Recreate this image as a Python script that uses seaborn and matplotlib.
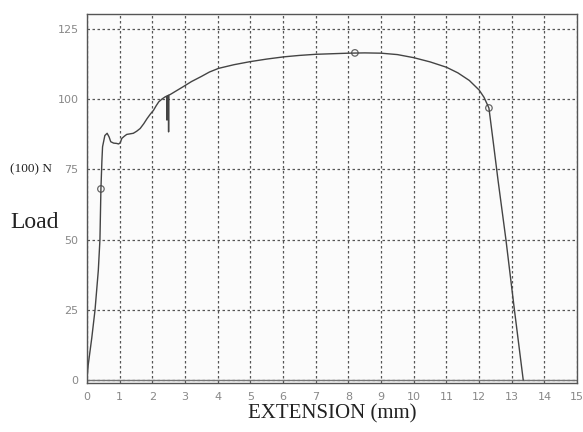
import numpy as np
import pandas as pd
import matplotlib
matplotlib.use("Agg")
import matplotlib.pyplot as plt
import seaborn as sns

sns.set_style("white")

# extension (mm) and load (x100 N)
extension = [0.0, 0.04, 0.15, 0.25, 0.35, 0.40, 0.43, 0.46, 0.48, 0.55, 0.62, 0.68, 0.73,
             0.82, 0.91, 0.97, 1.02, 1.07, 1.15, 1.22, 1.32, 1.42, 1.52, 1.63, 1.74,
             1.84, 1.94, 2.04, 2.12, 2.20, 2.30, 2.40, 2.44, 2.45, 2.46, 2.49, 2.50,
             2.51, 2.55, 2.75, 2.95, 3.2, 3.5, 3.75, 4.03, 4.5, 5.0, 5.5, 6.03, 6.5,
             7.0, 7.5, 8.0, 8.5, 9.0, 9.5, 10.0, 10.5, 11.0, 11.35, 11.7, 12.0, 12.15, 12.3,
             12.44, 12.58, 12.82, 13.08, 13.35]
load = [0.0, 5.3, 15.0, 25.0, 39.0, 50.0, 68.0, 78.0, 83.0, 87.0, 87.8, 86.5, 84.8,
        84.3, 84.2, 84.0, 84.4, 86.0, 86.8, 87.4, 87.6, 87.8, 88.5, 89.5, 91.2,
        93.0, 94.6, 96.0, 97.6, 99.0, 100.0, 100.8, 101.0, 92.5, 101.1, 101.3, 88.3,
        101.4, 101.6, 103.0, 104.4, 106.2, 108.0, 109.6, 110.9, 112.2, 113.3, 114.2, 115.0, 115.5,
        115.9, 116.1, 116.3, 116.4, 116.3, 115.8, 114.7, 113.2, 111.3, 109.3, 106.6, 103.2, 100.6, 96.8,
        84.0, 71.0, 50.0, 25.0, 0.0]

# marked points on the curve
mark_ext = [0.43, 8.2, 12.3]
mark_load = [68.0, 116.4, 96.8]

x_ticks = list(range(0, 16))
y_ticks = [0, 25, 50, 75, 100, 125]

df = pd.DataFrame({'extension': extension, 'load': load})
marks = pd.DataFrame({'extension': mark_ext, 'load': mark_load})

fig = plt.figure(figsize=(5.83, 4.32), dpi=100)
ax = fig.add_axes([0.149, 0.113, 0.841, 0.855])
ax.set_facecolor('#fbfbfb')

sns.lineplot(data=df, x='extension', y='load', sort=False, estimator=None,
             color='#444444', linewidth=1.0, ax=ax)
sns.scatterplot(data=marks, x='extension', y='load', marker='o', s=22,
                facecolor='none', edgecolor='#666666', linewidth=0.9, ax=ax)

ax.set_xlim(0, 15)
ax.set_ylim(-1.1, 130.3)
ax.set_xticks(x_ticks)
ax.set_yticks(y_ticks)
ax.grid(True, color='#555555', linestyle=(0, (2, 2)), linewidth=0.9)
ax.axhline(0, color='#777777', linewidth=1.0, zorder=1)
ax.tick_params(length=0, labelsize=8, labelcolor='#888888', pad=6)
for s in ax.spines.values():
    s.set_color('#555555')
    s.set_linewidth(1.0)

ax.set_xlabel('EXTENSION (mm)', family='Liberation Serif', fontsize=15, color='#222222', labelpad=2)
ax.set_ylabel('')
fig.text(0.017, 0.485, 'Load', family='Liberation Serif', fontsize=17, color='#222222', va='center')
fig.text(0.017, 0.607, '(100) N', family='Liberation Serif', fontsize=9.5, color='#222222', va='center')

fig.savefig('out.png', dpi=100)
